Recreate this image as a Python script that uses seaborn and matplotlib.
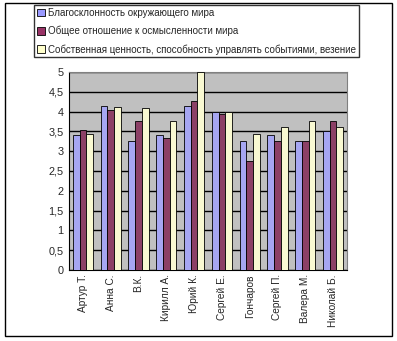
import matplotlib
matplotlib.use("Agg")
import matplotlib.pyplot as plt
import seaborn as sns
import pandas as pd
import numpy as np
from matplotlib.patches import Rectangle, Patch
from matplotlib.ticker import FuncFormatter, MultipleLocator

names = ["Артур Т.", "Анна С.", "В.К.", "Кирилл А.", "Юрий К.",
         "Сергей Е.", "Гончаров", "Сергей П.", "Валера М.", "Николай Б."]
series = ["Благосклонность окружающего мира",
          "Общее отношение к осмысленности мира",
          "Собственная ценность, способность управлять событиями, везение"]
s1 = [3.40, 4.14, 3.27, 3.40, 4.14, 4.00, 3.27, 3.40, 3.27, 3.51]
s2 = [3.53, 4.03, 3.77, 3.34, 4.27, 3.93, 2.76, 3.27, 3.27, 3.77]
s3 = [3.44, 4.11, 4.08, 3.77, 5.00, 4.00, 3.43, 3.61, 3.77, 3.61]
colors = ["#9999FF", "#993366", "#FFFFCC"]

sns.set_style("white")
plt.rcParams["font.family"] = ["Liberation Sans", "DejaVu Sans"]
plt.rcParams["font.size"] = 7

df = pd.DataFrame({
    "name": names * 3,
    "series": [series[0]] * 10 + [series[1]] * 10 + [series[2]] * 10,
    "value": s1 + s2 + s3,
})

W, H = 397, 341
fig = plt.figure(figsize=(W / 100, H / 100), dpi=100)
ax = fig.add_axes([69 / W, 1 - 270 / H, (347 - 69) / W, (270 - 72) / H])
ax.set_facecolor("#C0C0C0")

sns.barplot(data=df, x="name", y="value", hue="series", palette=colors,
            order=names, hue_order=series, width=0.72, gap=0,
            edgecolor="black", linewidth=0.6, ax=ax, legend=False, zorder=3)

ax.set_ylim(0, 5)
ax.set_xlim(-0.5, len(names) - 0.5)
ax.yaxis.set_major_locator(MultipleLocator(0.5))
ax.yaxis.set_major_formatter(FuncFormatter(lambda v, p: ("%g" % v).replace(".", ",")))
ax.grid(axis="y", color="black", linewidth=1, zorder=1)
ax.set_axisbelow(True)
ax.set_xlabel("")
ax.set_ylabel("")

ax.set_xticks(np.arange(len(names)))
ax.set_xticklabels(names, rotation=90, va="top", ha="center", fontsize=7.3)
ax.set_xticks(np.arange(len(names) + 1) - 0.5, minor=True)
ax.tick_params(axis="x", which="major", length=0, pad=3)
ax.tick_params(axis="x", which="minor", length=3, width=0.8, direction="out", color="black")
ax.tick_params(axis="y", length=3, width=0.8, direction="out", color="black", pad=1, labelsize=7.8)

for side in ["top", "right"]:
    ax.spines[side].set_color("#808080")
    ax.spines[side].set_linewidth(0.8)
for side in ["left", "bottom"]:
    ax.spines[side].set_color("black")
    ax.spines[side].set_linewidth(0.8)

handles = [Patch(facecolor=c, edgecolor="black", linewidth=0.6) for c in colors]
leg = fig.legend(handles, series, loc="upper left",
                 bbox_to_anchor=(34 / W, 1 - 5 / H), frameon=True,
                 fancybox=False, handlelength=0.8, handleheight=0.8,
                 handletextpad=0.3, borderpad=0.3, labelspacing=0.8,
                 borderaxespad=0, fontsize=7.05)
leg.get_frame().set_edgecolor("black")
leg.get_frame().set_linewidth(1)

fig.patches.append(Rectangle((5 / W, 1 - 336 / H), (392 - 5) / W, (336 - 3) / H,
                             transform=fig.transFigure, fill=False,
                             edgecolor="black", linewidth=1))

fig.savefig("out.png", dpi=100)
